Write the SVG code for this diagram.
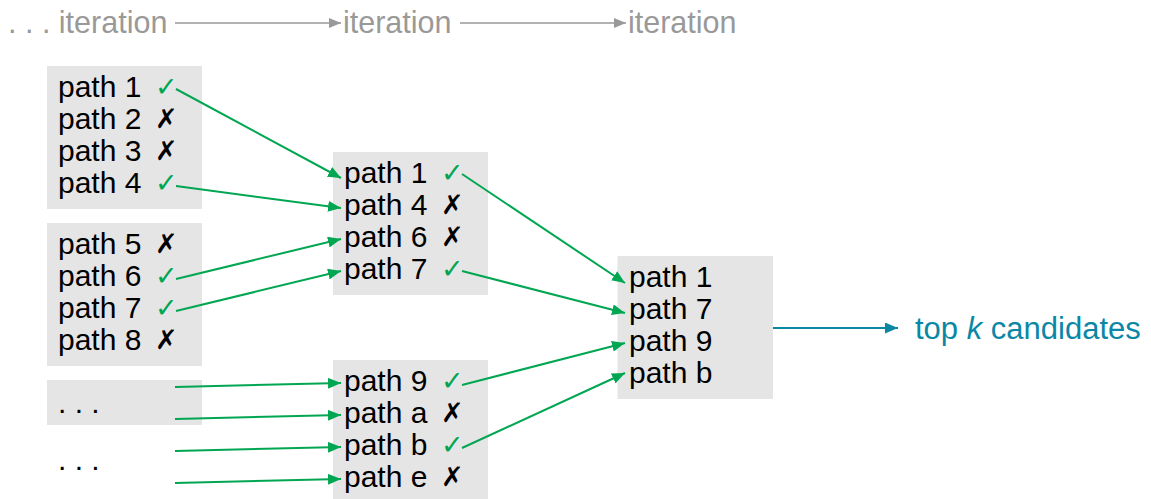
<svg xmlns="http://www.w3.org/2000/svg" width="1151" height="499" viewBox="0 0 1151 499">
  <style>
    .box { fill: #e5e5e5; }
    .t { font-family: "Liberation Sans", Arial, sans-serif; font-size: 30px; fill: #000; }
    .hdr { font-family: "Liberation Sans", Arial, sans-serif; font-size: 30.5px; fill: #999999; }
    .ok { font-family: "DejaVu Sans", sans-serif; font-size: 27px; fill: #00a651; }
    .no { font-family: "DejaVu Sans", sans-serif; font-size: 27px; font-weight: bold; fill: #000; }
    .out { font-family: "Liberation Sans", Arial, sans-serif; font-size: 31px; fill: #0b87a6; }
    .g { stroke: #00a651; stroke-width: 2; fill: none; marker-end: url(#ag); }
    .gray { stroke: #999999; stroke-width: 1.6; fill: none; marker-end: url(#agr); }
    .teal { stroke: #0b87a6; stroke-width: 2; fill: none; marker-end: url(#at); }
  </style>
  <defs>
    <marker id="ag" markerUnits="userSpaceOnUse" markerWidth="13" markerHeight="11" refX="13" refY="5.5" orient="auto">
      <path d="M0,0 L13,5.5 L0,11 z" fill="#00a651"/>
    </marker>
    <marker id="agr" markerUnits="userSpaceOnUse" markerWidth="12" markerHeight="10" refX="12" refY="5" orient="auto">
      <path d="M0,0 L12,5 L0,10 z" fill="#999999"/>
    </marker>
    <marker id="at" markerUnits="userSpaceOnUse" markerWidth="13" markerHeight="11" refX="13" refY="5.5" orient="auto">
      <path d="M0,0 L13,5.5 L0,11 z" fill="#0b87a6"/>
    </marker>
  </defs>

  <!-- iteration timeline -->
  <g id="timeline">
    <text class="hdr" x="8" y="33" xml:space="preserve">. . . iteration</text>
    <line class="gray" x1="175" y1="23" x2="341" y2="23"/>
    <text class="hdr" x="343" y="33">iteration</text>
    <line class="gray" x1="460" y1="23" x2="626" y2="23"/>
    <text class="hdr" x="628" y="33">iteration</text>
  </g>

  <!-- first column -->
  <g id="group-a">
    <rect class="box" x="47" y="66" width="155" height="143"/>
    <text class="t" x="58" y="97">path 1</text><text class="ok" x="155" y="96">✓</text>
    <text class="t" x="58" y="129">path 2</text><text class="no" x="155" y="128">✗</text>
    <text class="t" x="58" y="161">path 3</text><text class="no" x="155" y="160">✗</text>
    <text class="t" x="58" y="193">path 4</text><text class="ok" x="155" y="192">✓</text>
  </g>
  <g id="group-b">
    <rect class="box" x="47" y="223" width="155" height="143"/>
    <text class="t" x="58" y="254">path 5</text><text class="no" x="155" y="253">✗</text>
    <text class="t" x="58" y="286">path 6</text><text class="ok" x="155" y="285">✓</text>
    <text class="t" x="58" y="318">path 7</text><text class="ok" x="155" y="317">✓</text>
    <text class="t" x="58" y="350">path 8</text><text class="no" x="155" y="349">✗</text>
  </g>
  <g id="group-c">
    <rect class="box" x="47" y="380" width="155" height="45"/>
    <text class="t" x="58" y="413" xml:space="preserve">. . .</text>
  </g>
  <g id="group-d">
    <text class="t" x="58" y="470" xml:space="preserve">. . .</text>
  </g>

  <!-- second column -->
  <g id="merge-a">
    <rect class="box" x="333" y="152" width="155" height="143"/>
    <text class="t" x="344" y="183">path 1</text><text class="ok" x="441" y="182">✓</text>
    <text class="t" x="344" y="215">path 4</text><text class="no" x="441" y="214">✗</text>
    <text class="t" x="344" y="247">path 6</text><text class="no" x="441" y="246">✗</text>
    <text class="t" x="344" y="279">path 7</text><text class="ok" x="441" y="278">✓</text>
  </g>
  <g id="merge-b">
    <rect class="box" x="333" y="360" width="155" height="143"/>
    <text class="t" x="344" y="391">path 9</text><text class="ok" x="441" y="390">✓</text>
    <text class="t" x="344" y="423">path a</text><text class="no" x="441" y="422">✗</text>
    <text class="t" x="344" y="455">path b</text><text class="ok" x="441" y="454">✓</text>
    <text class="t" x="344" y="487">path e</text><text class="no" x="441" y="486">✗</text>
  </g>

  <!-- final column -->
  <g id="final">
    <rect class="box" x="617.5" y="256" width="155.5" height="143"/>
    <text class="t" x="629" y="287">path 1</text>
    <text class="t" x="629" y="319">path 7</text>
    <text class="t" x="629" y="351">path 9</text>
    <text class="t" x="629" y="383">path b</text>
  </g>
  <g id="result">
    <text class="out" x="915" y="339">top <tspan font-style="italic">k</tspan> candidates</text>
  </g>

  <!-- connectors -->
  <g id="connectors">
    <line class="g" x1="176" y1="89" x2="341" y2="178"/>
    <line class="g" x1="176" y1="186" x2="341" y2="208"/>
    <line class="g" x1="176" y1="279" x2="341" y2="239"/>
    <line class="g" x1="176" y1="311" x2="341" y2="271"/>
    <line class="g" x1="175" y1="387" x2="341" y2="383"/>
    <line class="g" x1="175" y1="419" x2="341" y2="415"/>
    <line class="g" x1="175" y1="451" x2="341" y2="447"/>
    <line class="g" x1="175" y1="483" x2="341" y2="479"/>
    <line class="g" x1="462" y1="174" x2="625" y2="283"/>
    <line class="g" x1="462" y1="271" x2="625" y2="313"/>
    <line class="g" x1="462" y1="385" x2="625" y2="343"/>
    <line class="g" x1="462" y1="448" x2="625" y2="373"/>
    <line class="teal" x1="773" y1="328" x2="898" y2="328"/>
  </g>
</svg>
